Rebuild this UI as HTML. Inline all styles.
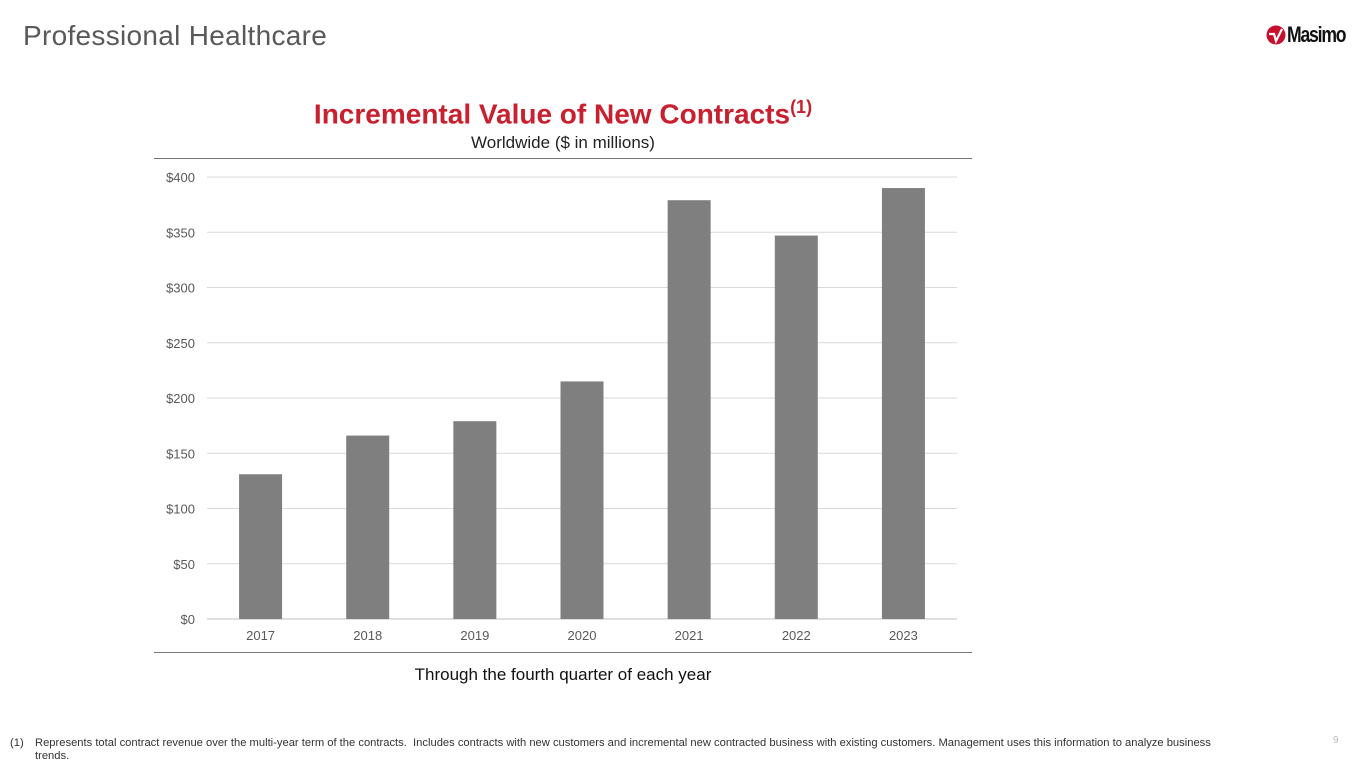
<!DOCTYPE html>
<html><head><meta charset="utf-8"><style>
body{margin:0;width:1365px;height:768px;background:#fff;font-family:"Liberation Sans",sans-serif;position:relative;overflow:hidden}
.a{position:absolute}
</style></head><body>
<div class="a" style="left:23px;top:20px;font-size:28px;color:#595959;letter-spacing:0.3px">Professional Healthcare</div>
<div class="a" style="left:1266px;top:22px;display:flex;align-items:center">
<svg width="20" height="22" viewBox="0 0 20 22"><circle cx="10" cy="11" r="9.5" fill="#c8102e"/><path d="M3 10 L8 10 L10 17 L16 5" stroke="#fff" stroke-width="2.2" fill="none"/></svg>
<span style="font-size:22px;font-weight:bold;color:#111;letter-spacing:-1.5px;transform:scaleX(0.8);transform-origin:left;display:inline-block;margin-left:1px">Masimo</span></div>
<div class="a" style="left:0;width:1126px;top:97px;text-align:center;font-size:28px;font-weight:bold;color:#c8202f">Incremental Value of New Contracts<sup style="font-size:18px">(1)</sup></div>
<div class="a" style="left:0;width:1126px;top:133px;text-align:center;font-size:17px;color:#222">Worldwide ($ in millions)</div>
<div class="a" style="left:154px;top:158px;width:818px;height:1px;background:#777"></div>
<div class="a" style="left:154px;top:652px;width:818px;height:1px;background:#777"></div>
<svg class="a" style="left:0;top:0" width="1365" height="768" id="chart"></svg>
<div class="a" style="left:0;width:1126px;top:665px;text-align:center;font-size:17px;color:#111">Through the fourth quarter of each year</div>
<div class="a" style="left:10px;top:737px;font-size:11.2px;color:#333;line-height:13px">(1)</div>
<div class="a" style="left:35px;top:737px;width:1210px;font-size:11.2px;color:#333;line-height:13px">Represents total contract revenue over the multi-year term of the contracts.&nbsp; Includes contracts with new customers and incremental new contracted business with existing customers. Management uses this information to analyze business trends.</div>
<div class="a" style="left:1333px;top:735px;font-size:10px;color:#bbb">9</div>
<script>
const categories=["2017","2018","2019","2020","2021","2022","2023"];
const values=[131,166,179,215,379,347,390];
const ticks=[0,50,100,150,200,250,300,350,400];
const svg=document.getElementById('chart');
const NS='http://www.w3.org/2000/svg';
const x0=207,x1=957,y0=619,y1=177,maxV=400;
const y=v=>y0-(v/maxV)*(y0-y1);
const step=(x1-x0)/categories.length;
const xc=i=>x0+step*(i+0.5);
ticks.forEach(t=>{
 const l=document.createElementNS(NS,'line');
 
 
 l.setAttribute('x1',x0);l.setAttribute('x2',x1);l.setAttribute('y1',y(t));l.setAttribute('y2',y(t));
 l.setAttribute('stroke',t===0?'#bfbfbf':'#d9d9d9');l.setAttribute('stroke-width','1');
 svg.appendChild(l);
 const tx=document.createElementNS(NS,'text');
 
 
 tx.setAttribute('x',195);tx.setAttribute('y',y(t)+5);tx.setAttribute('text-anchor','end');
 tx.setAttribute('font-size','13');tx.setAttribute('fill','#595959');tx.setAttribute('font-family','Liberation Sans');
 tx.textContent='$'+t;svg.appendChild(tx);
});
categories.forEach((c,i)=>{
 const r=document.createElementNS(NS,'rect');
 
 
 r.setAttribute('x',xc(i)-21.5);r.setAttribute('width',43);
 r.setAttribute('y',y(values[i]));r.setAttribute('height',y0-y(values[i]));
 r.setAttribute('fill','#7f7f7f');svg.appendChild(r);
 const tx=document.createElementNS(NS,'text');
 
 
 tx.setAttribute('x',xc(i));tx.setAttribute('y',640);tx.setAttribute('text-anchor','middle');
 tx.setAttribute('font-size','13');tx.setAttribute('fill','#595959');tx.setAttribute('font-family','Liberation Sans');
 tx.textContent=c;svg.appendChild(tx);
});
</script>
</body></html>
